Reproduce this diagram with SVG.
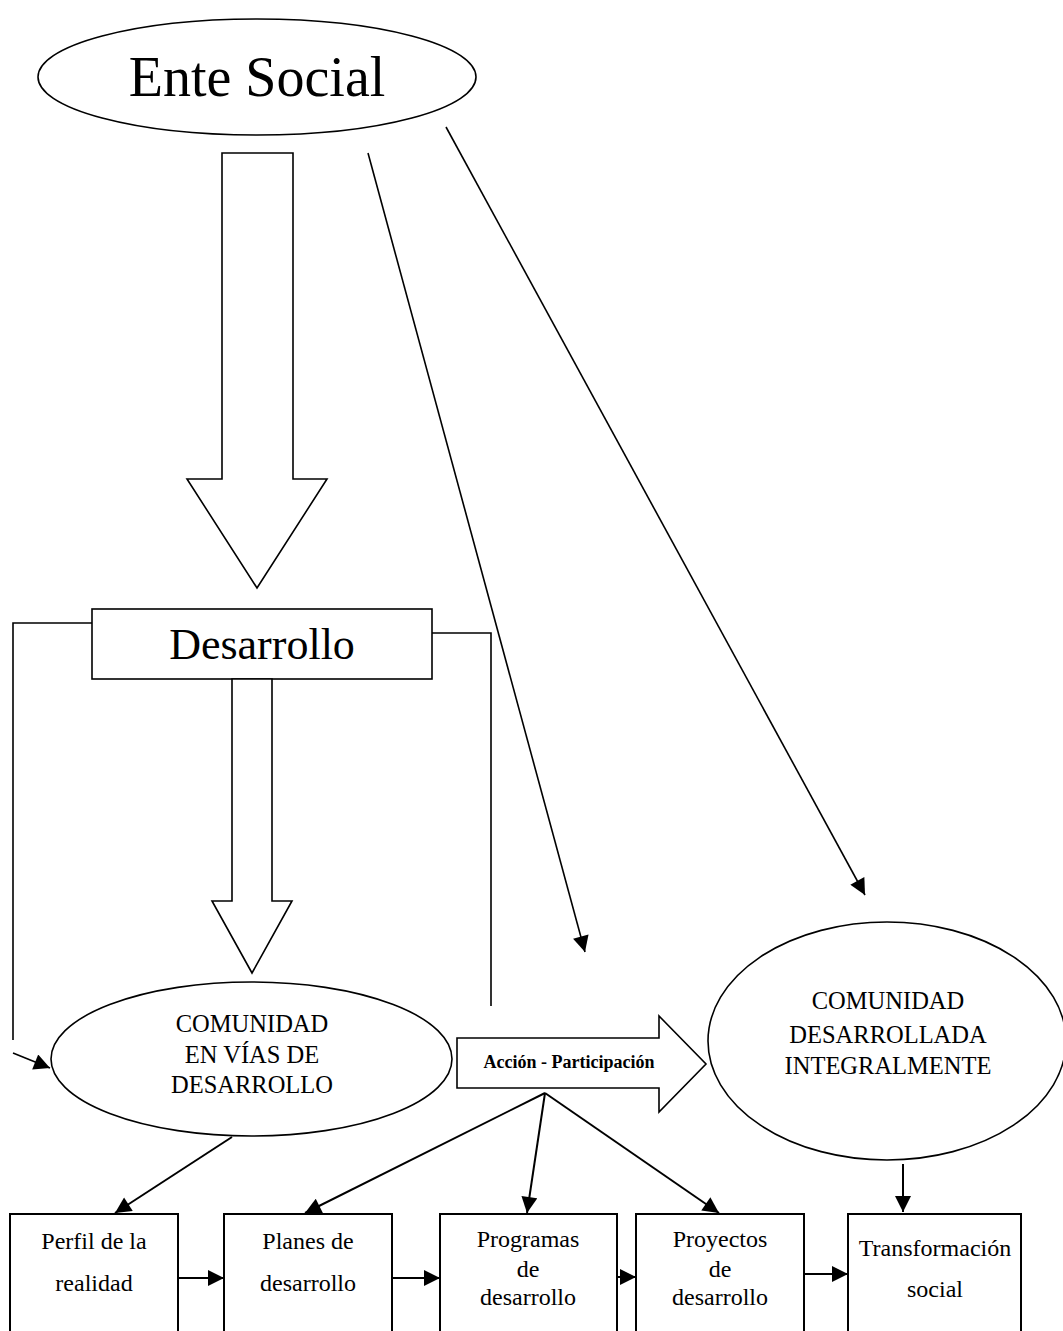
<svg xmlns="http://www.w3.org/2000/svg" width="1063" height="1331" viewBox="0 0 1063 1331">
<style>
.s{fill:#fff;stroke:#000;stroke-width:1.6}
.l{fill:none;stroke:#000;stroke-width:1.6}
.b{fill:none;stroke:#000;stroke-width:2}
.t{font-family:"Liberation Serif","Times New Roman",serif;fill:#000;text-anchor:middle}
</style>
<defs>
<marker id="ah" viewBox="0 0 10 10" refX="10" refY="5" markerWidth="18" markerHeight="16" markerUnits="userSpaceOnUse" orient="auto">
<path d="M0,0 L10,5 L0,10 z" fill="#000"/>
</marker>
</defs>
<rect width="1063" height="1331" fill="#fff"/>
<g id="connectors">
<polyline class="l" points="92,623 13,623 13,1040"/>
<line class="l" x1="13" y1="1053" x2="50" y2="1068" marker-end="url(#ah)"/>
<polyline class="l" points="432,633 491,633 491,1006"/>
<line class="l" x1="368" y1="153" x2="585" y2="952" marker-end="url(#ah)"/>
<line class="l" x1="446" y1="127" x2="865" y2="895" marker-end="url(#ah)"/>
<line class="b" x1="232" y1="1137" x2="115" y2="1213" marker-end="url(#ah)"/>
<line class="b" x1="545" y1="1093" x2="305" y2="1213" marker-end="url(#ah)"/>
<line class="b" x1="545" y1="1093" x2="527" y2="1213" marker-end="url(#ah)"/>
<line class="b" x1="545" y1="1093" x2="719" y2="1213" marker-end="url(#ah)"/>
<line class="b" x1="903" y1="1164" x2="903" y2="1212" marker-end="url(#ah)"/>
<line class="b" x1="178" y1="1278" x2="224" y2="1278" marker-end="url(#ah)"/>
<line class="b" x1="392" y1="1278" x2="440" y2="1278" marker-end="url(#ah)"/>
<line class="b" x1="617" y1="1277" x2="636" y2="1277" marker-end="url(#ah)"/>
<line class="b" x1="804" y1="1274" x2="848" y2="1274" marker-end="url(#ah)"/>
</g>
<g id="ente-social">
<ellipse class="s" cx="257" cy="77" rx="219" ry="58"/>
<text class="t" x="257" y="96" font-size="56">Ente Social</text>
</g>
<g id="arrow-big">
<polygon class="s" points="222,153 293,153 293,479 327,479 257,588 187,479 222,479"/>
</g>
<g id="desarrollo">
<rect class="s" x="92" y="609" width="340" height="70"/>
<text class="t" x="262" y="659" font-size="44">Desarrollo</text>
</g>
<g id="arrow-mid">
<polygon class="s" points="232,679 272,679 272,901 292,901 252,973 212,901 232,901"/>
</g>
<g id="comunidad-vias">
<ellipse class="s" cx="251.5" cy="1059" rx="200.5" ry="77"/>
<text class="t" font-size="24.5"><tspan x="252" y="1032">COMUNIDAD</tspan><tspan x="252" y="1063">EN VÍAS DE</tspan><tspan x="252" y="1093">DESARROLLO</tspan></text>
</g>
<g id="accion-participacion">
<polygon class="s" points="457,1038 659,1038 659,1016 706,1064 659,1112 659,1088 457,1088"/>
<text class="t" x="569" y="1068" font-size="18" font-weight="bold">Acción - Participación</text>
</g>
<g id="comunidad-integral">
<ellipse class="s" cx="887" cy="1041" rx="179" ry="119"/>
<text class="t" font-size="24.5"><tspan x="888" y="1009">COMUNIDAD</tspan><tspan x="888" y="1043">DESARROLLADA</tspan><tspan x="888" y="1074">INTEGRALMENTE</tspan></text>
</g>
<g id="perfil">
<rect class="b" x="10" y="1214" width="168" height="130"/>
<text class="t" font-size="24"><tspan x="94" y="1249">Perfil de la</tspan><tspan x="94" y="1291">realidad</tspan></text>
</g>
<g id="planes">
<rect class="b" x="224" y="1214" width="168" height="130"/>
<text class="t" font-size="24"><tspan x="308" y="1249">Planes de</tspan><tspan x="308" y="1291">desarrollo</tspan></text>
</g>
<g id="programas">
<rect class="b" x="440" y="1214" width="177" height="130"/>
<text class="t" font-size="24"><tspan x="528" y="1247">Programas</tspan><tspan x="528" y="1277">de</tspan><tspan x="528" y="1305">desarrollo</tspan></text>
</g>
<g id="proyectos">
<rect class="b" x="636" y="1214" width="168" height="130"/>
<text class="t" font-size="24"><tspan x="720" y="1247">Proyectos</tspan><tspan x="720" y="1277">de</tspan><tspan x="720" y="1305">desarrollo</tspan></text>
</g>
<g id="transformacion">
<rect class="b" x="848" y="1214" width="173" height="130"/>
<text class="t" font-size="24"><tspan x="935" y="1256">Transformación</tspan><tspan x="935" y="1297">social</tspan></text>
</g>
</svg>
